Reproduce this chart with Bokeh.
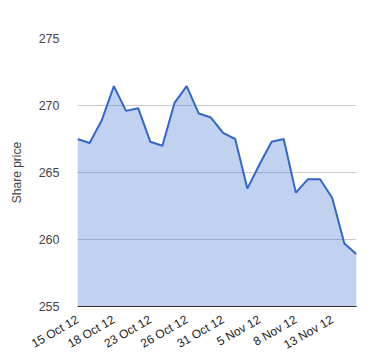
import math
from bokeh.plotting import figure
from bokeh.models import FixedTicker, Range1d, Label, ColumnDataSource
from bokeh.embed import file_html
from bokeh.resources import INLINE

dates = ["15 Oct 12", "16 Oct 12", "17 Oct 12", "18 Oct 12", "19 Oct 12",
         "22 Oct 12", "23 Oct 12", "24 Oct 12", "25 Oct 12", "26 Oct 12",
         "29 Oct 12", "30 Oct 12", "31 Oct 12", "1 Nov 12", "2 Nov 12",
         "5 Nov 12", "6 Nov 12", "7 Nov 12", "8 Nov 12", "9 Nov 12",
         "12 Nov 12", "13 Nov 12", "14 Nov 12", "15 Nov 12"]
prices = [267.5, 267.2, 268.9, 271.45, 269.6, 269.8, 267.3, 267.0, 270.2, 271.45,
          269.4, 269.1, 267.95, 267.5, 263.8, 265.6, 267.3, 267.5, 263.5, 264.5,
          264.5, 263.1, 259.7, 258.9]
y_ticks = [255, 260, 265, 270, 275]
label_every = 3
y_min, y_max = 255, 275

idx = list(range(len(dates)))
src = ColumnDataSource(dict(x=idx, y=prices, base=[y_min] * len(idx)))

p = figure(width=372, height=360, output_backend="svg", toolbar_location=None,
           x_range=Range1d(0, len(dates) - 1), y_range=Range1d(y_min, y_max),
           min_border_left=77, min_border_right=16, min_border_top=38, min_border_bottom=47)
p.outline_line_color = None

p.varea(x="x", y1="base", y2="y", source=src, fill_color="#3366cc", fill_alpha=0.3)
p.line(x="x", y="y", source=src, line_color="#3366cc", line_width=2)

tick_idx = idx[::label_every]
p.xaxis.ticker = FixedTicker(ticks=tick_idx)
p.xaxis.major_label_overrides = {i: dates[i] for i in tick_idx}
p.xaxis.major_label_orientation = math.pi / 6
p.xaxis.major_tick_line_color = None
p.xaxis.minor_tick_line_color = None
p.xaxis.axis_line_color = "#333333"
p.xaxis.major_label_text_font = "Liberation Sans"
p.xaxis.major_label_text_font_size = "12px"
p.xaxis.major_label_text_color = "#222222"
p.xaxis.major_label_standoff = 6
p.xgrid.grid_line_color = None

p.yaxis.ticker = FixedTicker(ticks=y_ticks)
p.yaxis.axis_line_color = None
p.yaxis.major_tick_line_color = None
p.yaxis.minor_tick_line_color = None
p.yaxis.major_label_text_font = "Liberation Sans"
p.yaxis.major_label_text_font_size = "12.5px"
p.yaxis.major_label_text_color = "#444444"
p.yaxis.major_label_standoff = 12
p.yaxis.axis_label = "Share price"
p.yaxis.axis_label_text_font = "Liberation Sans"
p.yaxis.axis_label_text_font_style = "normal"
p.yaxis.axis_label_text_font_size = "12px"
p.yaxis.axis_label_text_color = "#444444"
p.yaxis.axis_label_standoff = 12
p.ygrid.grid_line_color = "#cccccc"
p.ygrid.ticker = FixedTicker(ticks=y_ticks)

src_label = Label(x=len(dates) - 1, y=y_max, text="Source: Google Finance",
                  x_offset=-3, y_offset=5, text_align="right", text_baseline="bottom",
                  text_font="Roboto", text_font_size="10px", text_color="#555555")
p.add_layout(src_label)

open("out.html", "w").write(file_html(p, INLINE))
